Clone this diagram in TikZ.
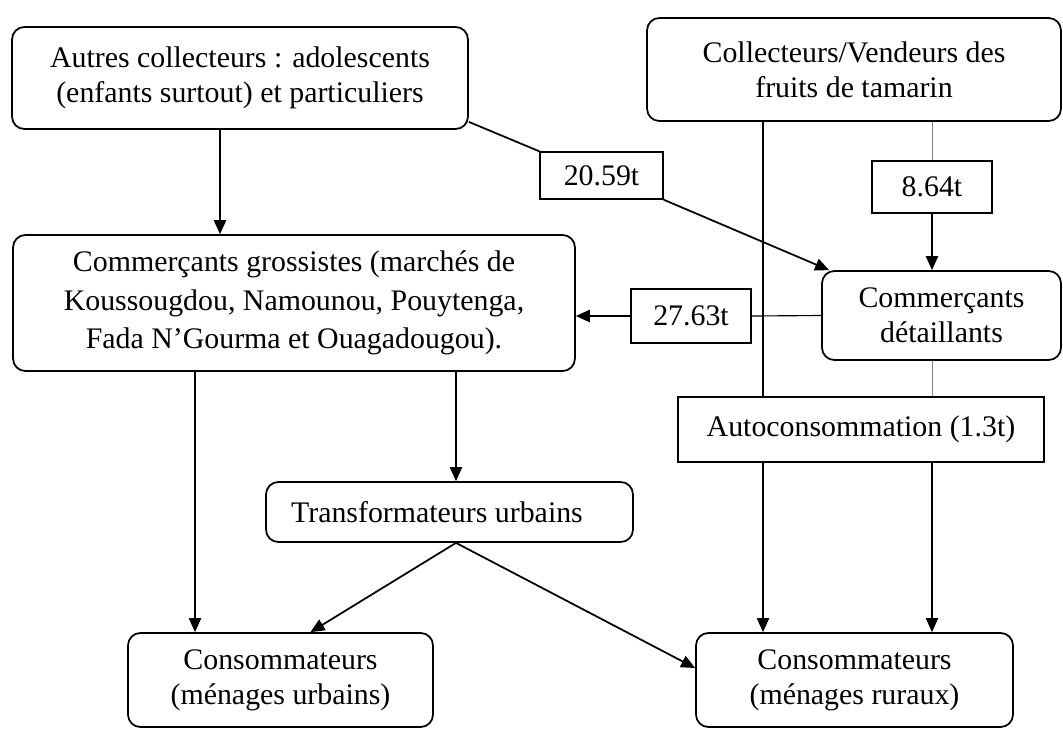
\documentclass[tikz,border=0pt]{standalone}
\usepackage{fontspec}
\setmainfont{Liberation Serif}
\usetikzlibrary{arrows.meta}
\begin{document}
\begin{tikzpicture}[x=0.02cm,y=-0.02cm,
    rbox/.style={draw,line width=1pt,rounded corners=7pt,align=center,inner sep=0pt,font=\fontsize{17}{20}\selectfont},
    qbox/.style={draw,line width=0.8pt,inner sep=0pt,font=\fontsize{17}{20}\selectfont},
    arr/.style={line width=1pt,-{Triangle[length=8pt,width=7pt]}},
    fine/.style={line width=0.65pt},
    faint/.style={line width=0.5pt,gray}]
    \useasboundingbox (0,0) rectangle (1063,728);
    \node[rbox,minimum width=9.12cm,minimum height=2.04cm] (autres) at (240,78) {Autres collecteurs : adolescents\\(enfants surtout) et particuliers};
    \node[rbox,minimum width=8.28cm,minimum height=2.06cm] (vendeurs) at (854,69.5) {Collecteurs/Vendeurs des\\fruits de tamarin};
    \node[qbox,minimum width=2.46cm,minimum height=0.94cm] (q2059) at (601.5,175.5) {20.59t};
    \node[qbox,minimum width=2.4cm,minimum height=1.04cm] (q864) at (932,187) {8.64t};
    \node[rbox,minimum width=11.24cm,minimum height=2.72cm,font=\fontsize{17}{22}\selectfont] (grossistes) at (294,303) {Commerçants grossistes (marchés de\\Koussougdou, Namounou, Pouytenga,\\Fada N’Gourma et Ouagadougou).};
    \node[rbox,minimum width=4.78cm,minimum height=1.78cm] (detaillants) at (941.5,315.5) {Commerçants\\détaillants};
    \node[qbox,minimum width=2.4cm,minimum height=1.08cm] (q2763) at (691,316) {27.63t};
    \node[qbox,minimum width=7.32cm,minimum height=1.3cm] (auto) at (861,429.5) {Autoconsommation (1.3t)};
    \node[rbox,minimum width=7.34cm,minimum height=1.2cm] (transfo) at (449.5,512) {Transformateurs urbains\hspace{0.5cm}};
    \node[rbox,minimum width=6.1cm,minimum height=1.88cm] (urbains) at (280.5,680) {Consommateurs\\(ménages urbains)};
    \node[rbox,minimum width=6.34cm,minimum height=1.88cm] (ruraux) at (854.5,680) {Consommateurs\\(ménages ruraux)};
    \coordinate (ac) at (220,0);
    \coordinate (vl) at (763,0);
    \coordinate (vr) at (932,0);
    \coordinate (ga) at (195,0);
    \coordinate (gb) at (456,0);
    \draw[arr] (ac |- autres.south) -- (ac |- grossistes.north);
    \draw[line width=1pt] ([yshift=0.16cm]autres.south east) -- (q2059.north west);
    \draw[arr] (q2059.south east) -- ([xshift=0.16cm]detaillants.north west);
    \draw[faint] (vr |- vendeurs.south) -- (vr |- q864.north);
    \draw[arr] (vr |- q864.south) -- (vr |- detaillants.north);
    \draw[fine] (vl |- vendeurs.south) -- (vl |- auto.north);
    \draw[fine] (detaillants.west) -- (q2763.east);
    \draw[arr] (q2763.west) -- (q2763.west -| grossistes.east);
    \draw[faint] (vr |- detaillants.south) -- (vr |- auto.north);
    \draw[arr,fine] (vl |- auto.south) -- (vl |- ruraux.north);
    \draw[arr,fine] (vr |- auto.south) -- (vr |- ruraux.north);
    \draw[arr,fine] (ga |- grossistes.south) -- (ga |- urbains.north);
    \draw[arr,fine] (gb |- grossistes.south) -- (gb |- transfo.north);
    \draw[arr] (gb |- transfo.south) -- ([xshift=0.6cm]urbains.north);
    \draw[arr] (gb |- transfo.south) -- ([yshift=0.24cm]ruraux.west);
\end{tikzpicture}
\end{document}
